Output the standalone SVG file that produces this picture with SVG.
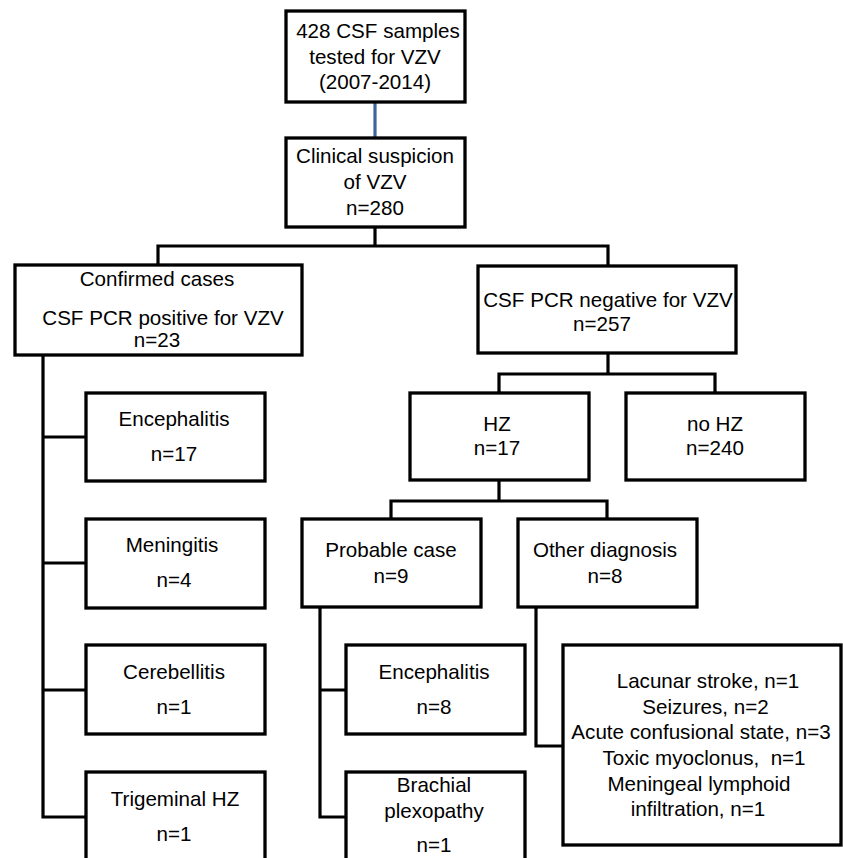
<svg xmlns="http://www.w3.org/2000/svg" width="843" height="858" viewBox="0 0 843 858">
<style>
.box{fill:#fff;stroke:#000;stroke-width:3.3}
.ln{fill:none;stroke:#000;stroke-width:3.2;stroke-linecap:square;stroke-linejoin:miter}
.blue{fill:none;stroke:#3F6698;stroke-width:3.2}
text{font-family:"Liberation Sans",Arial,Helvetica,sans-serif;font-size:20.6px;fill:#000;text-anchor:middle}
.pre{white-space:pre}
</style>
<rect width="843" height="858" fill="#fff"/>
<g id="connectors">
<path class="blue" d="M375 102 V138"/>
<path class="ln" d="M375 227 V246 M158 265 V246 H608 V266"/>
<path class="ln" d="M43 355 V817 H86 M43 437 H86 M43 563 H86 M43 690 H86"/>
<path class="ln" d="M608 353 V374 M499 393 V374 H715 V393"/>
<path class="ln" d="M499 480 V501 M391 519 V501 H607 V519"/>
<path class="ln" d="M320 607 V817 H346 M320 690 H346"/>
<path class="ln" d="M536 607 V746 H563"/>
</g>
<g id="n-top">
<rect class="box" x="286" y="11" width="179" height="91"/>
<text x="378" y="38">428 CSF samples</text>
<text x="375" y="63.5">tested for VZV</text>
<text x="375" y="89">(2007-2014)</text>
</g>
<g id="n-clinical">
<rect class="box" x="286" y="138" width="179" height="89"/>
<text x="375" y="163">Clinical suspicion</text>
<text x="375" y="189">of VZV</text>
<text x="375" y="215">n=280</text>
</g>
<g id="n-confirmed">
<rect class="box" x="15" y="265" width="287" height="90"/>
<text x="157" y="285.5">Confirmed cases</text>
<text x="163" y="325">CSF PCR positive for VZV</text>
<text x="157" y="347">n=23</text>
</g>
<g id="n-negative">
<rect class="box" x="478" y="266" width="258" height="87"/>
<text x="608" y="306.5">CSF PCR negative for VZV</text>
<text x="602" y="330.5">n=257</text>
</g>
<g id="n-hz">
<rect class="box" x="410" y="393" width="179" height="87"/>
<text x="497" y="430.5">HZ</text>
<text x="497" y="455">n=17</text>
</g>
<g id="n-nohz">
<rect class="box" x="626" y="393" width="179" height="87"/>
<text x="715" y="430.5">no HZ</text>
<text x="715" y="455">n=240</text>
</g>
<g id="n-enc1">
<rect class="box" x="86" y="393" width="179" height="88"/>
<text x="174" y="425.5">Encephalitis</text>
<text x="174" y="460.5">n=17</text>
</g>
<g id="n-men">
<rect class="box" x="86" y="519" width="179" height="89"/>
<text x="172" y="552">Meningitis</text>
<text x="174" y="587">n=4</text>
</g>
<g id="n-cer">
<rect class="box" x="86" y="645" width="179" height="89"/>
<text x="174" y="678.5">Cerebellitis</text>
<text x="174" y="713.5">n=1</text>
</g>
<g id="n-tri">
<rect class="box" x="86" y="772" width="179" height="100"/>
<text x="175" y="805.5">Trigeminal HZ</text>
<text x="174" y="840.5">n=1</text>
</g>
<g id="n-probable">
<rect class="box" x="302" y="519" width="179" height="88"/>
<text x="391" y="557">Probable case</text>
<text x="391" y="583">n=9</text>
</g>
<g id="n-other">
<rect class="box" x="518" y="519" width="179" height="88"/>
<text x="605" y="557">Other diagnosis</text>
<text x="605" y="583">n=8</text>
</g>
<g id="n-enc2">
<rect class="box" x="346" y="645" width="179" height="89"/>
<text x="434" y="679">Encephalitis</text>
<text x="434" y="714">n=8</text>
</g>
<g id="n-brachial">
<rect class="box" x="346" y="772" width="179" height="100"/>
<text x="434" y="791.5">Brachial</text>
<text x="434" y="818">plexopathy</text>
<text x="434" y="851.5">n=1</text>
</g>
<g id="n-otherlist">
<rect class="box" x="563" y="645" width="278" height="200"/>
<text x="708" y="688">Lacunar stroke, n=1</text>
<text x="705.5" y="714">Seizures, n=2</text>
<text x="701" y="739">Acute confusional state, n=3</text>
<text class="pre" x="704" y="765">Toxic myoclonus,  n=1</text>
<text x="699" y="791">Meningeal lymphoid</text>
<text x="698" y="816">infiltration, n=1</text>
</g>
</svg>
